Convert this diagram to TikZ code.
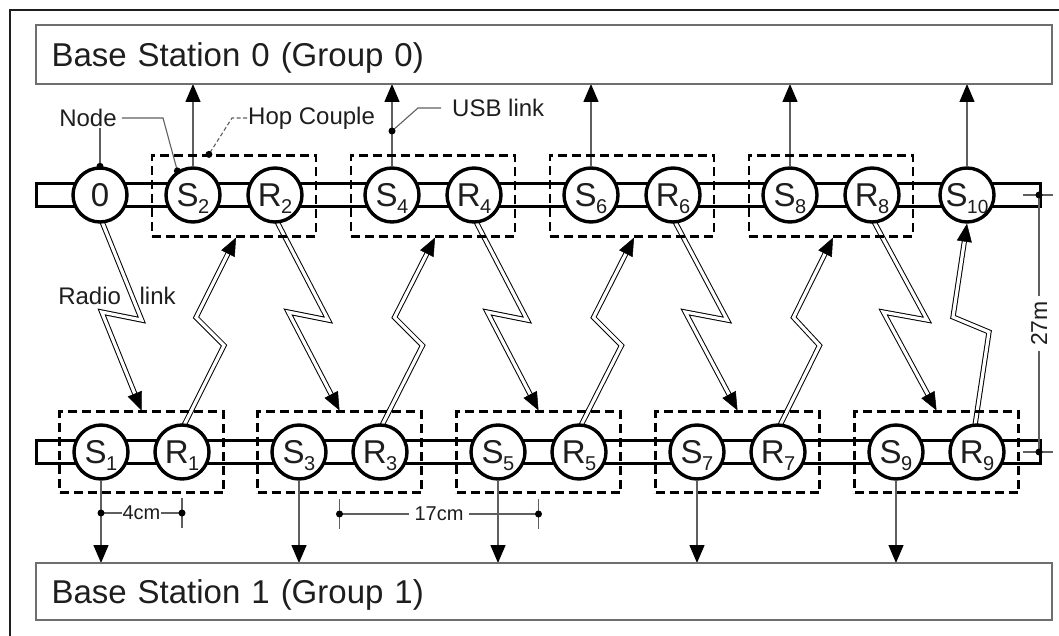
\documentclass[tikz,border=0pt]{standalone}
\usepackage{fontspec}
\setmainfont{Liberation Sans}
\usetikzlibrary{arrows.meta,calc}
\definecolor{txt}{RGB}{30,30,30}
\definecolor{lgray}{RGB}{95,95,95}
\definecolor{bgray}{RGB}{110,110,110}
\pgfdeclarelayer{background}
\pgfsetlayers{background,main}
\newcommand{\nsub}[2]{#1\kern-0.5pt\raisebox{-7pt}{\fontsize{20}{20}\selectfont #2}}
\newcommand{\bolt}[4]{%
  \coordinate (bP) at #1;
  \coordinate (bQ) at #2;
  \coordinate (bV1) at ($(bP)!0.5!(bQ)+(#3,#4)$);
  \coordinate (bV2) at ($(bP)!0.5!(bQ)-(#3,#4)$);
  \draw[boltline] (bP) -- (bV1) -- (bV2) -- (bQ);
  \draw[boltarrow] ($(bQ)!17pt!(bV2)$) -- (bQ);
}
\begin{document}
\begin{tikzpicture}[x=1pt,y=-1pt,
 nd/.style={circle,draw=black,line width=3.4pt,fill=white,minimum size=54pt,inner sep=0pt,text=txt,font=\fontsize{33}{33}\selectfont,text height=23.5pt,text depth=0pt},
 hop/.style={draw=black,line width=2.2pt,dash pattern=on 9pt off 5pt,minimum width=164pt,minimum height=81pt,inner sep=0pt},
 bs/.style={draw=bgray,line width=2.2pt,minimum height=59pt,text width=985pt,align=left,inner xsep=15.5pt,inner ysep=0pt,outer sep=0pt,text height=23.6pt,text depth=0pt,anchor=north west,text=txt,font=\fontsize{33}{33}\selectfont},
 usb/.style={draw=lgray,line width=1.4pt,-{Triangle[length=18pt,width=15pt,color=black]}},
 rail/.style={draw=black,line width=3pt},
 boltline/.style={draw=black,line width=1pt,double=white,double distance=3.2pt,line join=miter,shorten >=15pt},
 boltarrow/.style={-{Triangle[length=18pt,width=15pt,color=black]},line width=0.5pt},
 lbl/.style={text=txt,font=\fontsize{24}{24}\selectfont,inner sep=1pt},
 leader/.style={draw=lgray,line width=1.1pt},
 dimtxt/.style={text=txt,font=\fontsize{20}{20}\selectfont,fill=white,inner ysep=1pt},
 dimline/.style={draw=lgray,line width=1.1pt},
]
\useasboundingbox (0,0) rectangle (1059,636);
\draw[line width=1.5pt,draw=txt] (10,636) -- (10,10) -- (1059,10);

% base stations
\node[bs] (bs0) at (36,25) {Base Station 0 (Group 0)};
\node[bs,minimum height=57pt] (bs1) at (36,563) {Base Station 1 (Group 1)};

% hop couples
\node[hop] (hc2) at (234,196) {};
\node[hop] (hc4) at (433,196) {};
\node[hop] (hc6) at (632,196) {};
\node[hop] (hc8) at (831,196) {};
\node[hop] (hc1) at (141.5,452) {};
\node[hop] (hc3) at (339.5,452) {};
\node[hop] (hc5) at (538.5,452) {};
\node[hop] (hc7) at (737.5,452) {};
\node[hop] (hc9) at (936.5,452) {};

% top row nodes
\node[nd] (n0) at (100,195) {0};
\node[nd] (s2) at (193,195) {\nsub{S}{2}};
\node[nd] (r2) at (275,195) {\nsub{R}{2}};
\node[nd] (s4) at (392,195) {\nsub{S}{4}};
\node[nd] (r4) at (474,195) {\nsub{R}{4}};
\node[nd] (s6) at (591,195) {\nsub{S}{6}};
\node[nd] (r6) at (673,195) {\nsub{R}{6}};
\node[nd] (s8) at (790,195) {\nsub{S}{8}};
\node[nd] (r8) at (872,195) {\nsub{R}{8}};
\node[nd] (s10) at (967,195) {S\kern-0.5pt\raisebox{-7pt}{\fontsize{19}{19}\selectfont 10}};
% bottom row nodes
\node[nd] (s1) at (101,452) {\nsub{S}{1}};
\node[nd] (r1) at (182,452) {\nsub{R}{1}};
\node[nd] (s3) at (299,452) {\nsub{S}{3}};
\node[nd] (r3) at (380,452) {\nsub{R}{3}};
\node[nd] (s5) at (498,452) {\nsub{S}{5}};
\node[nd] (r5) at (579,452) {\nsub{R}{5}};
\node[nd] (s7) at (697,452) {\nsub{S}{7}};
\node[nd] (r7) at (778,452) {\nsub{R}{7}};
\node[nd] (s9) at (896,452) {\nsub{S}{9}};
\node[nd] (r9) at (977,452) {\nsub{R}{9}};

\begin{pgfonlayer}{background}
\draw[rail] (36,183.5) rectangle (1040,206.5);
\draw[rail] (36,440.5) rectangle (1040,463.5);
\foreach \n in {s2,s4,s6,s8,s10} \draw[usb] (\n) -- (\n |- bs0.south);
\foreach \n in {s1,s3,s5,s7,s9} \draw[usb] (\n) -- (\n |- bs1.north);
\bolt{($(n0.south)+(2,-2)$)}{(hc1.north)}{20}{4}
\bolt{($(r1.north)+(2,2)$)}{($(hc2.south)+(2,0)$)}{14}{14}
\bolt{($(r2.south)+(2,-2)$)}{(hc3.north)}{20}{4}
\bolt{($(r3.north)+(2,2)$)}{($(hc4.south)+(2,0)$)}{14}{14}
\bolt{($(r4.south)+(2,-2)$)}{(hc5.north)}{20}{4}
\bolt{($(r5.north)+(2,2)$)}{($(hc6.south)+(2,0)$)}{14}{14}
\bolt{($(r6.south)+(2,-2)$)}{(hc7.north)}{21}{4}
\bolt{($(r7.north)+(2,2)$)}{($(hc8.south)+(2,0)$)}{13}{14}
\bolt{($(r8.south)+(2,-2)$)}{(hc9.north)}{22}{4}
\bolt{($(r9.north)+(-2,2)$)}{(s10.south)}{18}{7.5}
\end{pgfonlayer}

% labels
\node[lbl] (lnode) at (88,118) {Node};
\coordinate (nknee) at (163,118);
\draw[leader] ($(lnode.east)+(4,0)$) -- (nknee) -- (s2.123);
\fill (s2.123) circle (3.5);
\draw[leader] (n0.north |- lnode.south) -- (n0.north);
\fill (n0.north) circle (3.5);

\node[lbl,anchor=west] (lhop) at (247,118) {Hop Couple};
\coordinate (hknee) at (232,118);
\coordinate (hdot) at ($(hc2.north west)+(58,0)$);
\draw[leader,dash pattern=on 4pt off 2.5pt] (lhop.west) -- (hknee) -- (hdot);
\fill (hdot) circle (3.5);

\node[lbl,anchor=west] (lusb) at (451,108) {USB link};
\coordinate (uknee) at (418,108);
\coordinate (udot) at ($(s4)+(0,-64)$);
\draw[leader] ($(lusb.west)+(-10,0)$) -- (uknee) -- (udot);
\fill (udot) circle (3.5);

\node[lbl] (lradio) at (117,296) {Radio\hspace{12pt} link};

% dimensions
\coordinate (d4a) at ($(s1)+(0,61)$);
\coordinate (d4b) at ($(r1)+(0,61)$);
\draw[dimline] ($(d4a)+(0,-15)$) -- ($(d4a)+(0,15)$);
\draw[dimline] ($(d4b)+(0,-15)$) -- ($(d4b)+(0,15)$);
\draw[dimline] (d4a) -- node[dimtxt,inner xsep=1pt] (t4) {4cm} (d4b);
\fill (d4a) circle (3.5);
\fill (d4b) circle (3.5);

\coordinate (d17a) at ($(hc3.center)+(0,62)$);
\coordinate (d17b) at ($(hc5.center)+(0,62)$);
\draw[dimline] ($(d17a)+(0,-15)$) -- ($(d17a)+(0,15)$);
\draw[dimline] ($(d17b)+(0,-15)$) -- ($(d17b)+(0,15)$);
\draw[dimline] (d17a) -- node[dimtxt,inner xsep=6pt] (t17) {17cm} (d17b);
\fill (d17a) circle (3.5);
\fill (d17b) circle (3.5);

\coordinate (d27a) at ($(s10)+(72,0)$);
\coordinate (d27b) at ($(r9)+(62,0)$);
\draw[dimline] ($(d27a)+(-16,0)$) -- ($(d27a)+(14,0)$);
\draw[dimline] ($(d27b)+(-16,0)$) -- ($(d27b)+(14,0)$);
\draw[dimline] (d27a) -- node[dimtxt,rotate=90,inner xsep=5pt,font=\fontsize{23}{23}\selectfont] (t27) {27m} (d27b);
\fill (d27a) circle (3.5);
\fill (d27b) circle (3.5);
\end{tikzpicture}
\end{document}
